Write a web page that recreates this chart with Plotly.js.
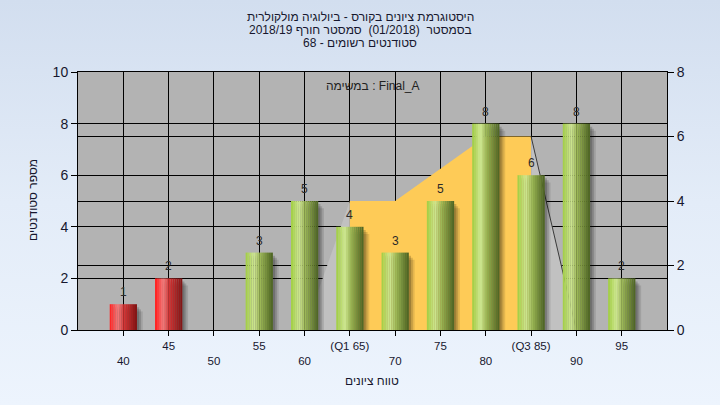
<!DOCTYPE html>
<html>
<head>
<meta charset="utf-8">
<script src="https://cdn.plot.ly/plotly-3.0.1.min.js"></script>
<style>
  html, body { margin: 0; padding: 0; }
  #chart { width: 720px; height: 405px; background: linear-gradient(to bottom, #d2deef 0%, #e3ecf8 50%, #edf4fd 100%); }
</style>
</head>
<body>
<div id="chart"></div>
<script>
// ---- data ----
const categories = [40, 45, 50, 55, 60, 65, 70, 75, 80, 85, 90, 95];
const counts     = [1, 2, 0, 3, 5, 4, 3, 5, 8, 6, 8, 2];
const tickLabels = ['40', '45', '50', '55', '60', '(Q1 65)', '70', '75', '80', '(Q3 85)', '90', '95'];
// distribution area (right axis units)
const areaX = [60, 65, 70, 80, 85, 90];
const areaY = [0, 4, 4, 6, 6, 0];
const q1Index = 1, q3Index = 4;

const titleLines = [
  'היסטוגרמת ציונים בקורס - ביולוגיה מולקולרית',
  'בסמסטר\u00A0\u00A0(01/2018)\u00A0\u00A0סמסטר חורף 2018/19',
  'סטודנטים רשומים - 68'
];
const taskLabel = 'במשימה : Final_A';
const xTitle = 'טווח ציונים';
const yTitle = 'מספר סטודנטים';

// ---- geometry of the plot area (pixels) ----
const W = 720, H = 405, M = { l: 78, r: 53, t: 72, b: 75 };
const PW = W - M.l - M.r, PH = H - M.t - M.b;
const pxToPaperX = px => (px - M.l) / PW;
const pxToPaperY = py => (H - M.b - py) / PH;

const fontFam = 'Liberation Sans, Arial, sans-serif';
const txtCol = '#17172e';

// ---- helpers ----
function hex2rgb(h) { return [parseInt(h.slice(1,3),16), parseInt(h.slice(3,5),16), parseInt(h.slice(5,7),16)]; }
function grad(stops, t) {
  for (let i = 0; i < stops.length - 1; i++) {
    const [t0, c0] = stops[i], [t1, c1] = stops[i+1];
    if (t >= t0 && t <= t1) {
      const f = (t - t0) / (t1 - t0), a = hex2rgb(c0), b = hex2rgb(c1);
      return 'rgb(' + a.map((v, k) => Math.round(v + (b[k] - v) * f)).join(',') + ')';
    }
  }
  return stops[stops.length-1][1];
}

const greenStops = [[0, '#9fcd40'], [0.3, '#cfe792'], [0.55, '#98b452'], [1, '#4b6122']];
const redStops   = [[0, '#ff1a1a'], [0.3, '#f47c7c'], [0.55, '#d03030'], [1, '#7e1414']];
const isRed = categories.map(c => c <= 45);

const barW = 3;
const traces = [];
traces.push({ x: [], y: [], type: 'scatter', yaxis: 'y', hoverinfo: 'skip' });

const leftX = areaX.slice(0, q1Index + 1), leftY = areaY.slice(0, q1Index + 1);
const midX = areaX.slice(q1Index, q3Index + 1), midY = areaY.slice(q1Index, q3Index + 1);
const rightX = areaX.slice(q3Index), rightY = areaY.slice(q3Index);
traces.push({ x: leftX, y: leftY, yaxis: 'y2', type: 'scatter', mode: 'lines', fill: 'tozeroy',
  fillcolor: '#c1c1c1', line: { width: 0, color: 'rgba(0,0,0,0)' }, hoverinfo: 'skip' });
traces.push({ x: midX, y: midY, yaxis: 'y2', type: 'scatter', mode: 'lines', fill: 'tozeroy',
  fillcolor: '#fecb57', line: { width: 0, color: 'rgba(0,0,0,0)' }, hoverinfo: 'skip' });
traces.push({ x: rightX, y: rightY, yaxis: 'y2', type: 'scatter', mode: 'lines', fill: 'tozeroy',
  fillcolor: '#c1c1c1', line: { width: 1, color: '#3a3a3a' }, hoverinfo: 'skip' });

[[0.65, 0.28, 'rgba(0,0,0,0.10)'], [0.45, 0.2, 'rgba(0,0,0,0.14)'], [0.25, 0.12, 'rgba(0,0,0,0.18)']].forEach(([shift, drop, col]) => {
  traces.push({ type: 'bar', x: categories, y: counts, base: -drop, yaxis: 'y3',
    width: barW, offset: -barW / 2 + shift, marker: { color: col, line: { width: 0 } }, hoverinfo: 'skip' });
});

const N = 14;
for (let i = 0; i < N; i++) {
  const t = (i + 0.5) / N;
  traces.push({ type: 'bar', x: categories, y: counts, yaxis: 'y3',
    width: barW / N + 0.01, offset: -barW / 2 + i * barW / N,
    marker: { color: isRed.map(r => grad(r ? redStops : greenStops, t)), line: { width: 0 } },
    hoverinfo: 'skip' });
}

const annotations = [];
categories.forEach((c, i) => {
  if (counts[i] > 0) annotations.push({ x: c, y: counts[i], xref: 'x', yref: 'y', text: String(counts[i]),
    showarrow: false, yshift: 12, font: { size: 12, color: '#2a2a2a', family: fontFam } });
});
const titleCenterPy = [16.7, 30.2, 43];
titleLines.forEach((s, i) => annotations.push({ x: pxToPaperX(360), y: pxToPaperY(titleCenterPy[i]),
  xref: 'paper', yref: 'paper', text: s, showarrow: false, xanchor: 'center', yanchor: 'middle',
  font: { size: 12, color: txtCol, family: fontFam } }));
annotations.push({ x: pxToPaperX(372.5), y: pxToPaperY(85.7), xref: 'paper', yref: 'paper', text: taskLabel, showarrow: false,
  xanchor: 'center', yanchor: 'middle', font: { size: 12, color: '#222', family: fontFam } });
annotations.push({ x: pxToPaperX(372), y: pxToPaperY(381), xref: 'paper', yref: 'paper', text: xTitle, showarrow: false,
  xanchor: 'center', yanchor: 'middle', font: { size: 12, color: txtCol, family: fontFam } });
annotations.push({ x: pxToPaperX(33), y: pxToPaperY(200), xref: 'paper', yref: 'paper', text: yTitle, showarrow: false,
  textangle: -90, xanchor: 'center', yanchor: 'middle', font: { size: 12, color: txtCol, family: fontFam } });

const layout = {
  width: W, height: H,
  margin: M,
  paper_bgcolor: 'rgba(0,0,0,0)',
  plot_bgcolor: '#b3b3b3',
  showlegend: false,
  barmode: 'overlay',
  xaxis: {
    range: [35, 100], tickmode: 'array', tickvals: categories,
    ticktext: tickLabels.map((t, i) => i % 2 === 0 ? '<br>' + t : t),
    ticks: 'outside', ticklen: 5, tickcolor: '#000', showline: true, linecolor: '#000', linewidth: 1,
    mirror: true, showgrid: true, gridcolor: '#000', gridwidth: 1, zeroline: false,
    tickfont: { size: 11.5, color: txtCol, family: fontFam }
  },
  yaxis: {
    range: [0, 10], dtick: 2, ticks: 'outside', ticklen: 6, tickcolor: '#000',
    showline: true, linecolor: '#000', showgrid: true, gridcolor: '#000', gridwidth: 1, zeroline: false,
    tickfont: { size: 14, color: txtCol, family: fontFam }
  },
  yaxis2: {
    range: [0, 8], dtick: 2, overlaying: 'y', side: 'right', ticks: 'outside', ticklen: 6, tickcolor: '#000',
    showline: true, linecolor: '#000', showgrid: true, gridcolor: '#000', gridwidth: 1, zeroline: false,
    tickfont: { size: 14, color: txtCol, family: fontFam }
  },
  yaxis3: { range: [0, 10], overlaying: 'y', visible: false, showgrid: false, zeroline: false },
  annotations: annotations
};
Plotly.newPlot('chart', traces, layout, { staticPlot: true, displayModeBar: false });
</script>
</body>
</html>
